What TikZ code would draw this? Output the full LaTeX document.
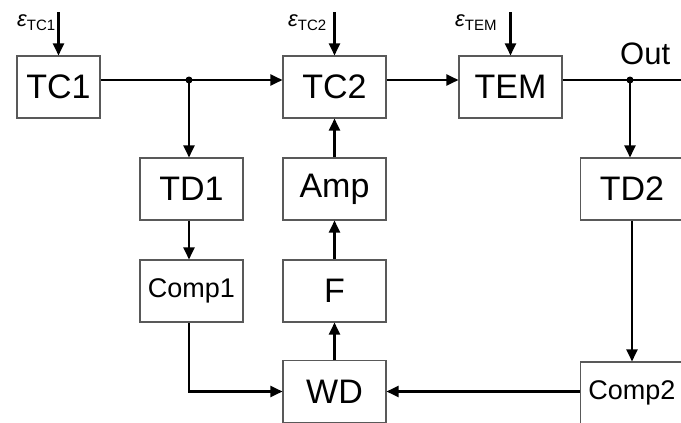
\documentclass[tikz,border=0pt]{standalone}
\usepackage{fontspec}
\setmainfont{Liberation Sans}
\usetikzlibrary{arrows.meta,calc}
\begin{document}
\begin{tikzpicture}[x=1pt,y=-1pt,
  blk/.style={draw=black!65,line width=1.1pt,rectangle,minimum height=62pt,minimum width=103pt,inner sep=0pt,font=\fontsize{34}{34}\selectfont},
  sblk/.style={blk,font=\fontsize{27}{27}\selectfont},
  wire/.style={line width=2.2pt,black},
  arr/.style={wire,-{Triangle[length=12pt,width=11pt]}},
  eps/.style={anchor=base west,inner sep=0pt,font=\fontsize{22}{22}\selectfont\itshape},
  dot/.style={circle,fill=black,inner sep=0pt,minimum size=7pt}]
\clip (0,0) rectangle (681,423);
\useasboundingbox (0,0) rectangle (681,423);
\node[blk,minimum width=83pt] (TC1) at (58.5,87) {TC1};
\node[blk] (TC2) at (334.5,87) {TC2};
\node[blk] (TEM) at (510.5,87) {TEM};
\node[blk] (TD1) at (191.5,189) {TD1};
\node[blk] (Amp) at (334.5,189) {Amp};
\node[blk] (TD2) at (632,189) {TD2};
\node[sblk] (Comp1) at (191.5,291) {Comp1};
\node[blk] (F) at (334.5,291) {F};
\node[blk] (WD) at (334.5,391.5) {WD};
\node[sblk] (Comp2) at (632,393) {Comp2};
% inputs
\coordinate (e1) at (58.5,12);
\coordinate (e2) at (334.5,12);
\coordinate (e3) at (510.5,12);
\node[eps] (l1) at (17,27) {ε\textsubscript{\fontsize{15}{15}\selectfont\upshape TC1}};
\node[eps] (l2) at (288,27) {ε\textsubscript{\fontsize{15}{15}\selectfont\upshape TC2}};
\node[eps] (l3) at (455,27) {ε\textsubscript{\fontsize{15}{15}\selectfont\upshape TEM}};
\draw[arr] (e1) -- (TC1.north);
\draw[arr] (e2) -- (TC2.north);
\draw[arr] (e3) -- (TEM.north);
% main line
\coordinate (j1) at (189,80);
\coordinate (j2) at (630,80);
\coordinate (outR) at (681,80);
\draw[wire] (TC1.east |- j1) -- (j1);
\draw[arr] (j1) -- (TC2.west |- j1);
\draw[arr] (TC2.east |- j1) -- (TEM.west |- j1);
\draw[wire] (TEM.east |- j2) -- (outR);
\node[dot] (d1) at (j1) {};
\node[dot] (d2) at (j2) {};
\node[anchor=base west,inner sep=0pt,font=\fontsize{31}{31}\selectfont] (out) at (620,64) {Out};
% left branch
\draw[arr] (j1) -- (j1 |- TD1.north);
\draw[arr] (TD1.south -| j1) -- (Comp1.north -| j1);
\draw[arr] (Comp1.south -| j1) |- (WD.west);
% middle chain
\draw[arr] (WD.north) -- (F.south);
\draw[arr] (F.north) -- (Amp.south);
\draw[arr] (Amp.north) -- (TC2.south);
% right branch
\draw[arr] (j2) -- (j2 |- TD2.north);
\draw[arr] (TD2.south) -- (Comp2.north);
\draw[arr] (Comp2.west |- WD.east) -- (WD.east);
\end{tikzpicture}
\end{document}
